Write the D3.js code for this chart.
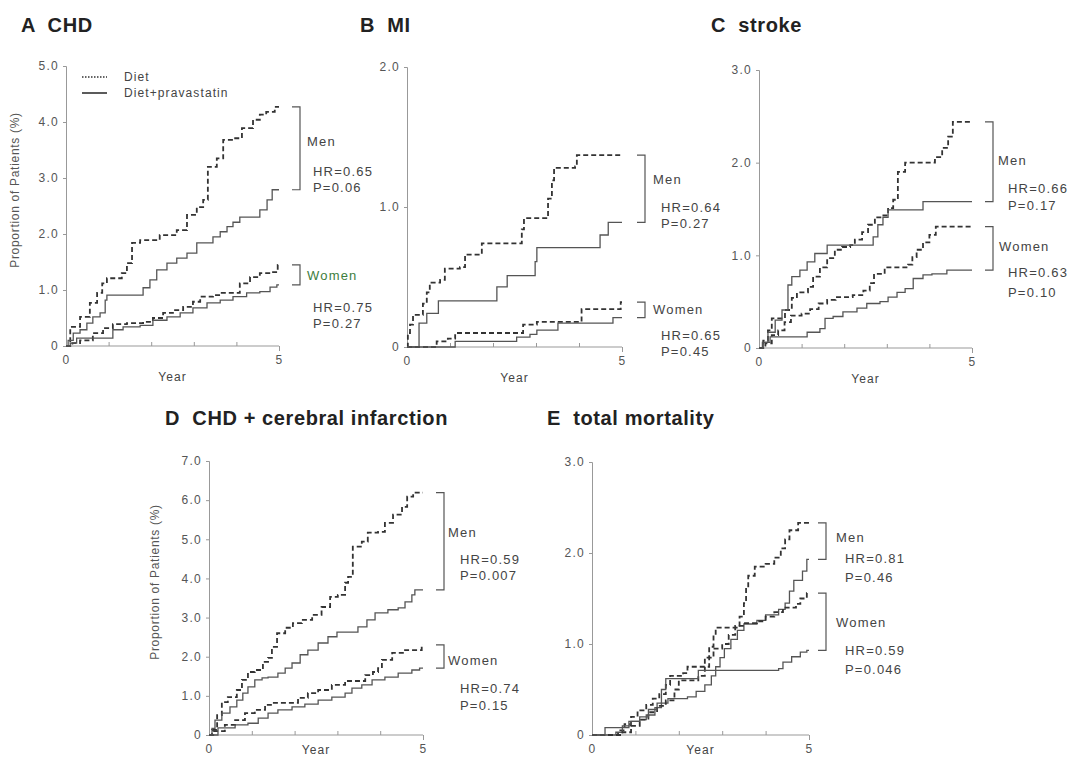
<!DOCTYPE html>
<html>
<head>
<meta charset="utf-8">
<script src="https://cdn.jsdelivr.net/npm/d3@7"></script>
<style>
	body { margin: 0; background: #fff; }
	svg { font-family: "Liberation Sans", Arial, sans-serif; }
	.title { font-size: 20px; font-weight: bold; fill: #222; letter-spacing: 0.6px; white-space: pre; }
	.axis path, .axis line { stroke: #999; }
	.axis text { font-size: 12px; fill: #555; letter-spacing: 1.3px; }
	.lbl { font-size: 12px; fill: #444; letter-spacing: 1.1px; }
	.ylab { font-size: 12px; fill: #555; letter-spacing: 0.7px; }
	.ann { font-size: 13px; fill: #444; letter-spacing: 1.2px; }
	.ann.green { fill: #3d7d3d; }
	.bracket { fill: none; stroke: #555; stroke-width: 1.2; }
	.diet { fill: none; stroke: #333; stroke-width: 1.8; stroke-dasharray: 5,3; }
	.prava { fill: none; stroke: #555; stroke-width: 1.3; }
</style>
</head>
<body>
<div id="chart"></div>
<script>
'use strict';

// [year, %] step points
let chdMenDiet = [[0,0],[0.1,0.34],[0.33,0.52],[0.56,0.77],[0.73,0.95],[0.85,1.12],[0.96,1.21],[1.31,1.3],[1.43,1.48],[1.55,1.84],[1.74,1.89],[2.2,1.98],[2.6,2.07],[2.84,2.34],[3.07,2.48],[3.22,2.61],[3.33,3.2],[3.54,3.35],[3.69,3.68],[3.92,3.71],[4.13,3.89],[4.39,4.04],[4.55,4.13],[4.7,4.18],[4.9,4.27],[5,4.27]];
let chdMenPrava = [[0,0],[0.05,0.1],[0.17,0.23],[0.33,0.29],[0.49,0.41],[0.63,0.52],[0.8,0.59],[0.92,0.82],[0.96,0.91],[1.69,0.91],[1.81,1.04],[1.97,1.18],[2.13,1.36],[2.37,1.48],[2.6,1.57],[2.84,1.66],[3.07,1.84],[3.31,1.84],[3.45,1.95],[3.62,2.04],[3.78,2.13],[3.92,2.21],[4.08,2.3],[4.39,2.3],[4.55,2.43],[4.72,2.61],[4.84,2.79],[5,2.79]];
let chdWomenDiet = [[0,0],[0.15,0.05],[0.33,0.1],[0.63,0.23],[0.87,0.32],[1.1,0.39],[1.43,0.41],[1.81,0.43],[2.04,0.5],[2.28,0.59],[2.51,0.64],[2.75,0.7],[2.98,0.79],[3.15,0.88],[3.45,0.91],[3.62,0.95],[3.92,0.95],[4.08,1.12],[4.32,1.23],[4.55,1.3],[4.86,1.32],[4.97,1.45],[5,1.45]];
let chdWomenPrava = [[0,0],[0.1,0.05],[0.25,0.14],[1.05,0.14],[1.1,0.29],[1.34,0.34],[1.74,0.37],[2.04,0.46],[2.37,0.52],[2.68,0.59],[2.98,0.68],[3.31,0.77],[3.62,0.82],[3.92,0.88],[4.24,0.95],[4.55,0.97],[4.79,1.05],[4.95,1.09],[5,1.09]];

let miMenDiet = [[0,0],[0.02,0.1],[0.07,0.16],[0.14,0.23],[0.37,0.31],[0.46,0.39],[0.53,0.46],[0.77,0.48],[0.88,0.56],[1.23,0.57],[1.35,0.66],[1.65,0.66],[1.74,0.74],[2.56,0.74],[2.67,0.84],[2.72,0.92],[3.16,0.92],[3.28,1.06],[3.37,1.19],[3.42,1.28],[3.91,1.29],[3.95,1.37],[5,1.37]];
let miMenPrava = [[0,0],[0.28,0.17],[0.46,0.24],[0.73,0.33],[2.05,0.33],[2.09,0.43],[2.33,0.51],[2.9,0.51],[2.98,0.61],[3.02,0.71],[4.42,0.71],[4.49,0.8],[4.68,0.89],[5,0.89]];
let miWomenDiet = [[0,0],[0.69,0.04],[0.95,0.06],[1.12,0.1],[2.63,0.1],[2.7,0.16],[3.02,0.18],[4.02,0.18],[4.06,0.27],[4.9,0.27],[4.97,0.32],[5,0.32]];
let miWomenPrava = [[0,0],[1.12,0.04],[2.51,0.04],[2.55,0.07],[2.86,0.09],[3.02,0.12],[3.49,0.12],[3.51,0.17],[4.77,0.17],[4.79,0.21],[5,0.21]];

let strokeMenDiet = [[0,0],[0.1,0.08],[0.21,0.19],[0.3,0.32],[0.49,0.32],[0.61,0.41],[0.77,0.54],[0.89,0.6],[1.15,0.66],[1.27,0.77],[1.43,0.87],[1.6,0.97],[1.78,1.06],[1.95,1.09],[2.14,1.11],[2.25,1.17],[2.42,1.25],[2.56,1.33],[2.72,1.41],[2.89,1.43],[3.03,1.51],[3.15,1.6],[3.26,1.9],[3.43,2.0],[3.97,2.0],[4.13,2.06],[4.3,2.16],[4.44,2.28],[4.55,2.44],[5,2.44]];
let strokeMenPrava = [[0,0],[0.08,0.06],[0.21,0.17],[0.38,0.3],[0.54,0.41],[0.68,0.68],[0.77,0.77],[0.96,0.84],[1.13,0.93],[1.31,1.02],[1.6,1.11],[2.61,1.11],[2.68,1.2],[2.79,1.33],[2.91,1.41],[3.03,1.49],[3.83,1.49],[3.85,1.58],[5,1.58]];
let strokeWomenDiet = [[0,0],[0.15,0.05],[0.3,0.14],[0.45,0.19],[0.6,0.28],[0.75,0.35],[1.0,0.37],[1.2,0.42],[1.4,0.48],[1.6,0.52],[1.8,0.55],[2.2,0.57],[2.45,0.62],[2.6,0.7],[2.7,0.8],[2.95,0.87],[3.5,0.9],[3.6,0.98],[3.7,1.06],[3.85,1.14],[4.0,1.22],[4.15,1.31],[5,1.31]];
let strokeWomenPrava = [[0,0],[0.1,0.06],[0.26,0.12],[0.96,0.12],[1.13,0.17],[1.43,0.21],[1.55,0.32],[1.74,0.34],[1.97,0.39],[2.3,0.43],[2.53,0.48],[2.84,0.5],[3.03,0.55],[3.24,0.6],[3.43,0.64],[3.62,0.75],[3.85,0.79],[4.06,0.8],[4.41,0.84],[5,0.84]];

let cciMenDiet = [[0,0],[0.07,0.13],[0.19,0.51],[0.3,0.84],[0.44,0.97],[0.65,1.15],[0.77,1.41],[0.91,1.61],[1.07,1.66],[1.26,1.87],[1.38,1.97],[1.47,2.25],[1.59,2.6],[1.78,2.74],[1.96,2.86],[2.17,2.94],[2.41,3.07],[2.63,3.27],[2.83,3.53],[3.01,3.58],[3.18,3.89],[3.25,4.04],[3.36,4.81],[3.57,4.94],[3.71,5.17],[3.95,5.19],[4.11,5.42],[4.3,5.63],[4.51,5.83],[4.63,6.09],[4.77,6.19],[5,6.19]];
let cciMenPrava = [[0,0],[0.07,0.17],[0.14,0.38],[0.3,0.56],[0.49,0.72],[0.65,0.89],[0.79,1.07],[0.91,1.23],[1.07,1.41],[1.24,1.46],[1.38,1.48],[1.61,1.58],[1.78,1.71],[1.94,1.84],[2.13,2.05],[2.31,2.17],[2.55,2.35],[2.78,2.51],[2.99,2.63],[3.34,2.63],[3.48,2.76],[3.69,2.94],[3.88,3.12],[4.18,3.2],[4.42,3.25],[4.58,3.4],[4.74,3.58],[4.81,3.71],[5,3.71]];
let cciWomenDiet = [[0,0],[0.1,0.1],[0.37,0.26],[0.61,0.38],[0.84,0.56],[1.07,0.64],[1.31,0.77],[1.47,0.82],[1.85,0.82],[2.08,0.95],[2.31,1.07],[2.55,1.15],[2.87,1.28],[3.18,1.38],[3.41,1.38],[3.65,1.53],[3.83,1.61],[3.95,1.71],[4.04,1.92],[4.28,2.1],[4.58,2.17],[4.88,2.17],[4.97,2.3],[5,2.3]];
let cciWomenPrava = [[0,0],[0.21,0.18],[0.61,0.26],[0.91,0.3],[1.15,0.43],[1.38,0.56],[1.61,0.64],[1.94,0.72],[2.24,0.79],[2.55,0.89],[2.87,0.97],[3.18,1.07],[3.34,1.2],[3.57,1.28],[3.81,1.41],[4.11,1.48],[4.42,1.58],[4.74,1.66],[4.92,1.71],[5,1.71]];

let mortMenDiet = [[0,0],[0.6,0.05],[0.75,0.12],[0.9,0.2],[1.05,0.27],[1.25,0.33],[1.4,0.4],[1.55,0.45],[1.7,0.55],[1.8,0.65],[2.1,0.68],[2.2,0.75],[2.5,0.75],[2.6,0.85],[2.7,0.97],[2.8,1.1],[2.85,1.18],[3.3,1.18],[3.4,1.3],[3.5,1.45],[3.55,1.62],[3.6,1.75],[3.75,1.85],[4.0,1.88],[4.2,1.95],[4.35,2.05],[4.45,2.15],[4.55,2.25],[4.75,2.33],[5,2.33]];
let mortMenPrava = [[0,0],[0.55,0.03],[0.7,0.1],[0.9,0.15],[1.1,0.17],[1.25,0.22],[1.45,0.3],[1.6,0.35],[1.75,0.4],[2.2,0.42],[2.4,0.48],[2.6,0.55],[2.75,0.65],[2.85,0.75],[2.95,0.85],[3.05,0.95],[3.2,1.05],[3.35,1.15],[3.5,1.22],[3.8,1.26],[4.0,1.32],[4.3,1.38],[4.45,1.45],[4.55,1.58],[4.65,1.7],[4.85,1.8],[4.95,1.93],[5,1.93]];
let mortWomenDiet = [[0,0],[0.7,0.03],[0.9,0.1],[1.1,0.17],[1.3,0.25],[1.5,0.32],[1.7,0.38],[1.9,0.5],[2.0,0.6],[2.3,0.6],[2.45,0.65],[2.6,0.75],[2.7,0.85],[2.8,0.95],[3.0,1.0],[3.15,1.1],[3.3,1.2],[3.5,1.23],[3.8,1.25],[4.0,1.3],[4.2,1.35],[4.4,1.4],[4.7,1.44],[4.8,1.5],[4.95,1.56],[5,1.56]];
let mortWomenPrava = [[0,0],[0.3,0.08],[0.75,0.08],[0.85,0.15],[1.1,0.2],[1.3,0.28],[1.5,0.35],[1.6,0.5],[1.7,0.62],[2.4,0.62],[2.45,0.71],[4.3,0.73],[4.4,0.8],[4.6,0.86],[4.8,0.91],[4.95,0.93],[5,0.93]];

let panelTitles = ['A  CHD', 'B  MI', 'C  stroke', 'D  CHD + cerebral infarction', 'E  total mortality'];
let panelYMax = [5, 2, 3, 7, 3];
let hrMen = ['HR=0.65', 'HR=0.64', 'HR=0.66', 'HR=0.59', 'HR=0.81'];
let pMen = ['P=0.06', 'P=0.27', 'P=0.17', 'P=0.007', 'P=0.46'];
let hrWomen = ['HR=0.75', 'HR=0.65', 'HR=0.63', 'HR=0.74', 'HR=0.59'];
let pWomen = ['P=0.27', 'P=0.45', 'P=0.10', 'P=0.15', 'P=0.046'];
let yearTicks = [0, 1, 2, 3, 4, 5];

let series = [
	[chdMenDiet, chdMenPrava, chdWomenDiet, chdWomenPrava],
	[miMenDiet, miMenPrava, miWomenDiet, miWomenPrava],
	[strokeMenDiet, strokeMenPrava, strokeWomenDiet, strokeWomenPrava],
	[cciMenDiet, cciMenPrava, cciWomenDiet, cciWomenPrava],
	[mortMenDiet, mortMenPrava, mortWomenDiet, mortWomenPrava],
];

// layout: plot box, title spot, bracket x and text spots
let layout = [
	{x0: 66, x1: 279, yTop: 66, yBot: 346, tx: 21, ty: 32, bx: 300, ylab: [15, 190],
		men: [307, 141], hm: [313, 171, 187], women: [307, 275], hw: [313, 307, 323]},
	{x0: 407, x1: 622, yTop: 67, yBot: 347, tx: 360, ty: 32, bx: 645,
		men: [653, 179], hm: [661, 207, 223], women: [653, 309], hw: [661, 335, 351]},
	{x0: 759, x1: 972, yTop: 70, yBot: 348, tx: 711, ty: 32, bx: 993,
		men: [998, 160], hm: [1008, 188, 205], women: [999, 246], hw: [1008, 272, 292]},
	{x0: 209, x1: 423, yTop: 461, yBot: 735, tx: 165, ty: 425, bx: 444, ylab: [155, 582],
		men: [448, 532], hm: [460, 559, 575], women: [448, 660], hw: [460, 688, 705]},
	{x0: 592, x1: 809, yTop: 462, yBot: 735, tx: 547, ty: 425, bx: 826,
		men: [836, 537], hm: [845, 558, 577], women: [836, 622], hw: [845, 650, 669]},
];

let svg = d3.select('#chart')
	.append('svg')
		.attr('width', 1070)
		.attr('height', 758)
	;

function fmtY(v) {
	return v === 0 ? '0' : d3.format('.1f')(v);
}

function bracket(g, bx, ya, yb) {
	g.append('path')
		.classed('bracket', true)
		.attr('d', `M${bx-8},${ya}H${bx}V${yb}H${bx-8}`)
		;
}

function text(g, x, y, t, cls) {
	return g.append('text')
		.attr('class', cls)
		.attr('x', x)
		.attr('y', y)
		.attr('dominant-baseline', 'central')
		.text(t)
		;
}

for (let i=0 ; i<layout.length ; ++i) {
	let L = layout[i];
	let g = svg.append('g');

	g.append('text')
		.classed('title', true)
		.attr('x', L.tx)
		.attr('y', L.ty)
		.text(panelTitles[i])
		;

	let x = d3.scaleLinear().domain([0, 5]).range([L.x0, L.x1]);
	let y = d3.scaleLinear().domain([0, panelYMax[i]]).range([L.yBot, L.yTop]);

	g.append('g')
		.classed('axis', true)
		.attr('transform', `translate(${L.x0},0)`)
		.call(d3.axisLeft(y).ticks(panelYMax[i]).tickSize(3).tickPadding(4).tickFormat(fmtY))
		;
	let xa = g.append('g')
		.classed('axis', true)
		.attr('transform', `translate(0,${L.yBot})`)
		.call(d3.axisBottom(x).tickValues(yearTicks).tickSize(-4).tickSizeOuter(0).tickPadding(9)
			.tickFormat(d => (d === 0 || d === 5) ? d : ''))
		;
	xa.select('.domain').attr('d', `M${L.x0},0H${L.x1}`);
	xa.selectAll('.tick').filter(d => d === 5).select('line').attr('y2', 5);

	// bottom row labels sit at the page edge
	text(g, (L.x0 + L.x1)/2, Math.min(L.yBot + 31, 750), 'Year', 'lbl')
		.attr('text-anchor', 'middle')
		;

	if (L.ylab) {
		g.append('text')
			.classed('ylab', true)
			.attr('transform', `translate(${L.ylab[0]},${L.ylab[1]}) rotate(-90)`)
			.attr('text-anchor', 'middle')
			.attr('dominant-baseline', 'central')
			.text('Proportion of Patients (%)')
			;
	}

	let line = d3.line()
		.x(d => x(d[0]))
		.y(d => y(d[1]))
		.curve(d3.curveStepAfter)
		;
	let s = series[i];
	for (let j=0 ; j<s.length ; ++j) {
		g.append('path')
			.datum(s[j])
			.attr('class', j % 2 === 0 ? 'diet' : 'prava')
			.attr('d', line)
			;
	}

	let end = d => y(d[d.length-1][1]);
	bracket(g, L.bx, end(s[0]), end(s[1]));
	bracket(g, L.bx, end(s[2]), end(s[3]));

	text(g, L.men[0], L.men[1], 'Men', 'ann');
	text(g, L.hm[0], L.hm[1], hrMen[i], 'ann');
	text(g, L.hm[0], L.hm[2], pMen[i], 'ann');
	text(g, L.women[0], L.women[1], 'Women', i === 0 ? 'ann green' : 'ann');
	text(g, L.hw[0], L.hw[1], hrWomen[i], 'ann');
	text(g, L.hw[0], L.hw[2], pWomen[i], 'ann');
}

// legend in panel A
let lg = svg.append('g');
lg.append('line')
	.attr('x1', 82).attr('x2', 107).attr('y1', 77).attr('y2', 77)
	.attr('stroke', '#333').attr('stroke-width', 1.3).attr('stroke-dasharray', '1.5,1.5')
	;
lg.append('line')
	.attr('x1', 82).attr('x2', 107).attr('y1', 93).attr('y2', 93)
	.attr('stroke', '#333').attr('stroke-width', 1.6)
	;
text(lg, 124, 77, 'Diet', 'lbl');
text(lg, 124, 93, 'Diet+pravastatin', 'lbl');
</script>
</body>
</html>
